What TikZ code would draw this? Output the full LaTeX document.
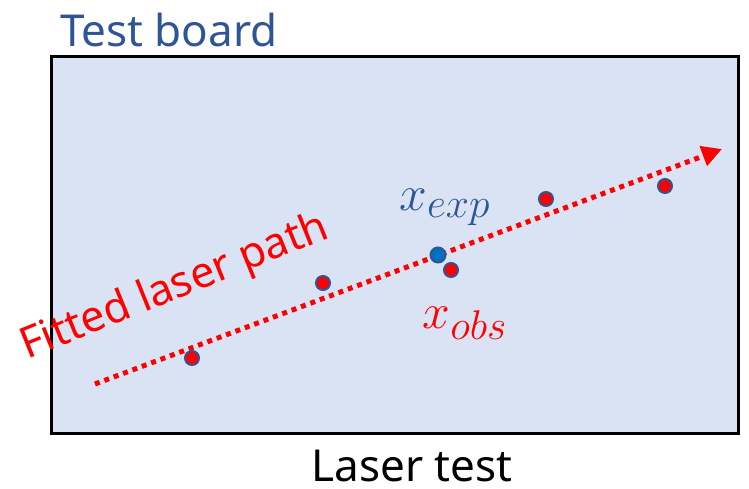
\documentclass[tikz,border=0pt]{standalone}
\usepackage{fontspec}
\setmainfont{Noto Sans}
\usetikzlibrary{arrows.meta}
\definecolor{boardfill}{HTML}{DAE3F3}
\definecolor{titleblue}{HTML}{2F5597}
\definecolor{dotblue}{HTML}{0070C0}
\definecolor{laserred}{HTML}{FF0000}
\tikzset{
  pt/.style={circle, draw=titleblue, line width=2pt, fill=laserred, minimum size=14pt, inner sep=0pt},
  ptexp/.style={pt, fill=dotblue, minimum size=15pt},
  bigtext/.style={font=\fontsize{44}{50}\selectfont, inner sep=0pt},
  mathlbl/.style={font=\fontsize{24.88}{30}\selectfont, inner sep=0pt, anchor=base},
}
\begin{document}
\begin{tikzpicture}[x=1pt, y=-1pt]
\useasboundingbox (0,0) rectangle (749,488);
\node[draw=black, line width=2.5pt, fill=boardfill, minimum width=687pt, minimum height=377pt, inner sep=0pt, anchor=north west] (board) at (50,55) {};
\node[bigtext, text=titleblue, anchor=base west] (title) at (60,46) {Test board};
\node[bigtext, text=black, anchor=base] (caption) at (412,481) {Laser test};
\coordinate (ls) at (95,384);
\coordinate (le) at (722,149);
\draw[laserred, line width=5pt, dash pattern=on 5pt off 5pt, -{Triangle[length=20pt, width=20pt]}] (ls) -- (le);
\node[pt] (p1) at (192,358) {};
\node[pt] (p2) at (323,283) {};
\node[pt] (p3) at (451,270) {};
\node[pt] (p4) at (546,199) {};
\node[pt] (p5) at (665,186) {};
\node[ptexp] (pe) at (438,255) {};
\node[mathlbl, text=titleblue] (lexp) at (445,210) {\scalebox{2}{$x_{exp}$}};
\node[mathlbl, text=laserred] (lobs) at (465,328) {\scalebox{2}{$x_{obs}$}};
\node[text=laserred, font=\fontsize{43}{48}\selectfont, inner sep=0pt, rotate=22, anchor=base west] (fit) at (27,360) {Fitted laser path};
\end{tikzpicture}
\end{document}
